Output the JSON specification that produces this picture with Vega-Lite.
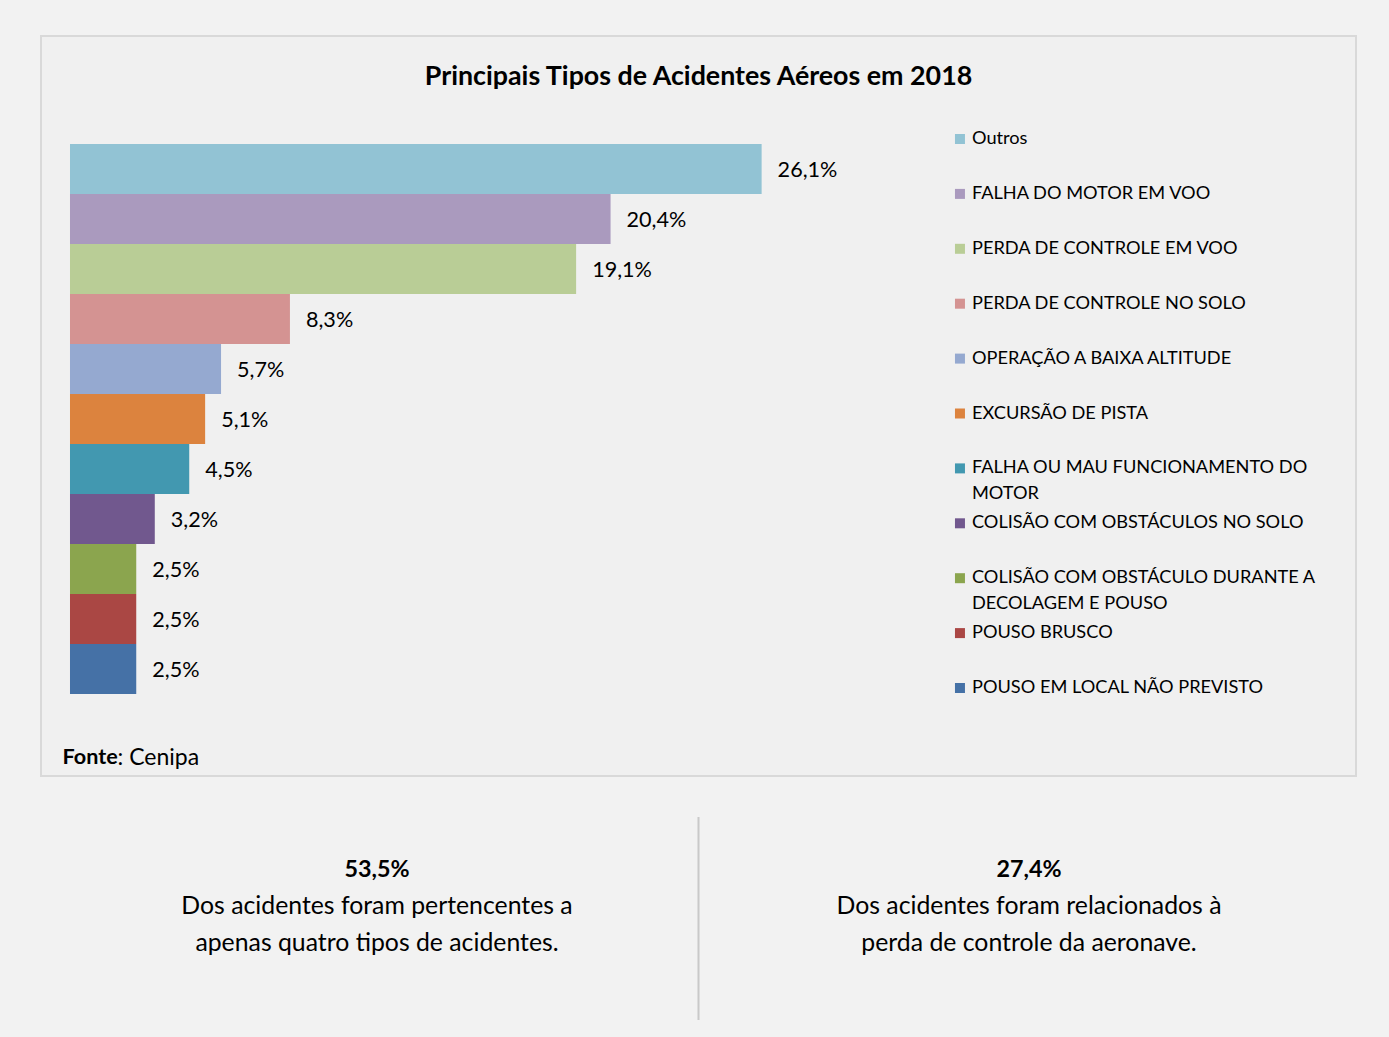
{
  "$schema": "https://vega.github.io/schema/vega-lite/v6.json",
  "background": "#f2f2f2",
  "padding": {"left": 40, "top": 35, "right": 34, "bottom": 19},
  "spacing": 39,
  "config": {
    "font": "Lato",
    "locale": {"number": {"decimal": ",", "thousands": ".", "grouping": [3], "currency": ["R$", ""]}},
    "view": {"stroke": null},
    "text": {"font": "Lato", "color": "#000000"}
  },
  "vconcat": [
    {
      "width": 1315,
      "height": 740,
      "view": {"stroke": "#d9d9d9", "strokeWidth": 2, "fill": "#f0f0f0"},
      "title": {
        "text": "Principais Tipos de Acidentes Aéreos em 2018",
        "anchor": "middle",
        "frame": "group",
        "offset": -68,
        "baseline": "middle",
        "fontSize": 26.8,
        "fontWeight": "bold",
        "font": "Lato",
        "color": "#000000"
      },
      "data": {"values": [
          {"tipo": "Outros", "legenda": "Outros", "percentual": 0.261},
          {"tipo": "FALHA DO MOTOR EM VOO", "legenda": "FALHA DO MOTOR EM VOO", "percentual": 0.204},
          {"tipo": "PERDA DE CONTROLE EM VOO", "legenda": "PERDA DE CONTROLE EM VOO", "percentual": 0.191},
          {"tipo": "PERDA DE CONTROLE NO SOLO", "legenda": "PERDA DE CONTROLE NO SOLO", "percentual": 0.083},
          {"tipo": "OPERAÇÃO A BAIXA ALTITUDE", "legenda": "OPERAÇÃO A BAIXA ALTITUDE", "percentual": 0.057},
          {"tipo": "EXCURSÃO DE PISTA", "legenda": "EXCURSÃO DE PISTA", "percentual": 0.051},
          {"tipo": "FALHA OU MAU FUNCIONAMENTO DO MOTOR", "legenda": "FALHA OU MAU FUNCIONAMENTO DO\nMOTOR", "percentual": 0.045},
          {"tipo": "COLISÃO COM OBSTÁCULOS NO SOLO", "legenda": "COLISÃO COM OBSTÁCULOS NO SOLO", "percentual": 0.032},
          {"tipo": "COLISÃO COM OBSTÁCULO DURANTE A DECOLAGEM E POUSO", "legenda": "COLISÃO COM OBSTÁCULO DURANTE A\nDECOLAGEM E POUSO", "percentual": 0.025},
          {"tipo": "POUSO BRUSCO", "legenda": "POUSO BRUSCO", "percentual": 0.025},
          {"tipo": "POUSO EM LOCAL NÃO PREVISTO", "legenda": "POUSO EM LOCAL NÃO PREVISTO", "percentual": 0.025}
      ]},
      "encoding": {
        "x": {"field": "percentual", "type": "quantitative",
              "scale": {"domain": [-0.01094, 0.4853], "nice": false, "zero": false},
              "axis": {"domain": false, "ticks": false, "labels": false, "grid": false,
                       "title": "Fonte", "titleFontWeight": "bold", "titleFontSize": 21.6,
                       "titleFont": "Lato", "titleColor": "#000000",
                       "titleX": 21, "titleY": -19, "titleAlign": "left", "titleBaseline": "middle"}},
        "color": {"field": "tipo", "type": "nominal", "legend": null,
                  "scale": {
                    "domain": ["Outros", "FALHA DO MOTOR EM VOO", "PERDA DE CONTROLE EM VOO", "PERDA DE CONTROLE NO SOLO", "OPERAÇÃO A BAIXA ALTITUDE", "EXCURSÃO DE PISTA", "FALHA OU MAU FUNCIONAMENTO DO MOTOR", "COLISÃO COM OBSTÁCULOS NO SOLO", "COLISÃO COM OBSTÁCULO DURANTE A DECOLAGEM E POUSO", "POUSO BRUSCO", "POUSO EM LOCAL NÃO PREVISTO"],
                    "range": ["#92c3d4", "#aa9abe", "#b9cd96", "#d49392", "#95a9d0", "#dc833e", "#4298b0", "#71588e", "#8ba54e", "#aa4744", "#4571a6"]
                  }}
      },
      "layer": [
        {
          "encoding": {
            "y": {"field": "tipo", "type": "nominal", "sort": null,
                  "scale": {"range": [108, 658], "paddingInner": 0, "paddingOuter": 0}, "axis": null}
          },
          "layer": [
            {"mark": {"type": "bar"}},
            {
              "mark": {"type": "text", "align": "left", "baseline": "middle", "dx": 16, "dy": 2, "fontSize": 21.6},
              "encoding": {
                "text": {"field": "percentual", "type": "quantitative", "format": ".1%"},
                "color": {"value": "#000000"}
              }
            }
          ]
        },
        {
          "encoding": {
            "y": {"field": "tipo", "type": "nominal", "sort": null,
                  "scale": {"type": "point", "range": [103, 652], "padding": 0},
                  "axis": {"orient": "left", "domain": false, "ticks": false, "labels": false, "grid": false,
                           "title": ": Cenipa", "titleFontWeight": "normal", "titleFontSize": 23,
                           "titleFont": "Lato", "titleColor": "#000000", "titleAngle": 0,
                           "titleX": 76, "titleY": 721, "titleAlign": "left", "titleBaseline": "middle"}},
            "x": {"datum": 0.33585, "type": "quantitative"}
          },
          "layer": [
            {"mark": {"type": "point", "shape": "square", "size": 100, "filled": true, "opacity": 1}},
            {
              "mark": {"type": "text", "align": "left", "baseline": "middle", "dx": 12, "fontSize": 18.2, "lineBreak": "\n", "lineHeight": 26},
              "encoding": {
                "text": {"field": "legenda", "type": "nominal"},
                "color": {"value": "#000000"}
              }
            }
          ]
        }
      ],
      "resolve": {"scale": {"y": "independent"}, "axis": {"y": "independent"}}
    },
    {
      "width": 1315,
      "height": 203,
      "data": {"values": [
        {"lado": "esquerda", "linha": 1, "texto": "53,5%"},
        {"lado": "esquerda", "linha": 2, "texto": "Dos acidentes foram pertencentes a"},
        {"lado": "esquerda", "linha": 3, "texto": "apenas quatro tipos de acidentes."},
        {"lado": "direita", "linha": 1, "texto": "27,4%"},
        {"lado": "direita", "linha": 2, "texto": "Dos acidentes foram relacionados à"},
        {"lado": "direita", "linha": 3, "texto": "perda de controle da aeronave."}
      ]},
      "layer": [
        {
          "transform": [{"filter": "datum.linha === 1 && datum.lado === 'direita'"}],
          "mark": {"type": "rule", "color": "#c9c9c9", "strokeWidth": 2},
          "encoding": {
            "x": {"field": "lado", "type": "nominal",
                  "scale": {"type": "point", "domain": ["direita"]}, "axis": null}
          }
        },
        {
          "encoding": {
            "x": {"field": "lado", "type": "nominal",
                  "scale": {"type": "band", "domain": ["esquerda", "direita"], "paddingInner": 0, "paddingOuter": 0.0084, "align": 0.91},
                  "axis": null},
            "y": {"field": "linha", "type": "ordinal",
                  "scale": {"type": "point", "domain": [1, 2, 3], "range": [53, 127], "padding": 0}, "axis": null},
            "text": {"field": "texto", "type": "nominal"}
          },
          "layer": [
            {
              "transform": [{"filter": "datum.linha === 1"}],
              "mark": {"type": "text", "align": "center", "baseline": "middle", "fontWeight": "bold", "fontSize": 23.3}
            },
            {
              "transform": [{"filter": "datum.linha !== 1"}],
              "mark": {"type": "text", "align": "center", "baseline": "middle", "fontSize": 24.8}
            }
          ]
        }
      ],
      "resolve": {"scale": {"x": "independent"}, "axis": {"x": "independent"}}
    }
  ]
}
